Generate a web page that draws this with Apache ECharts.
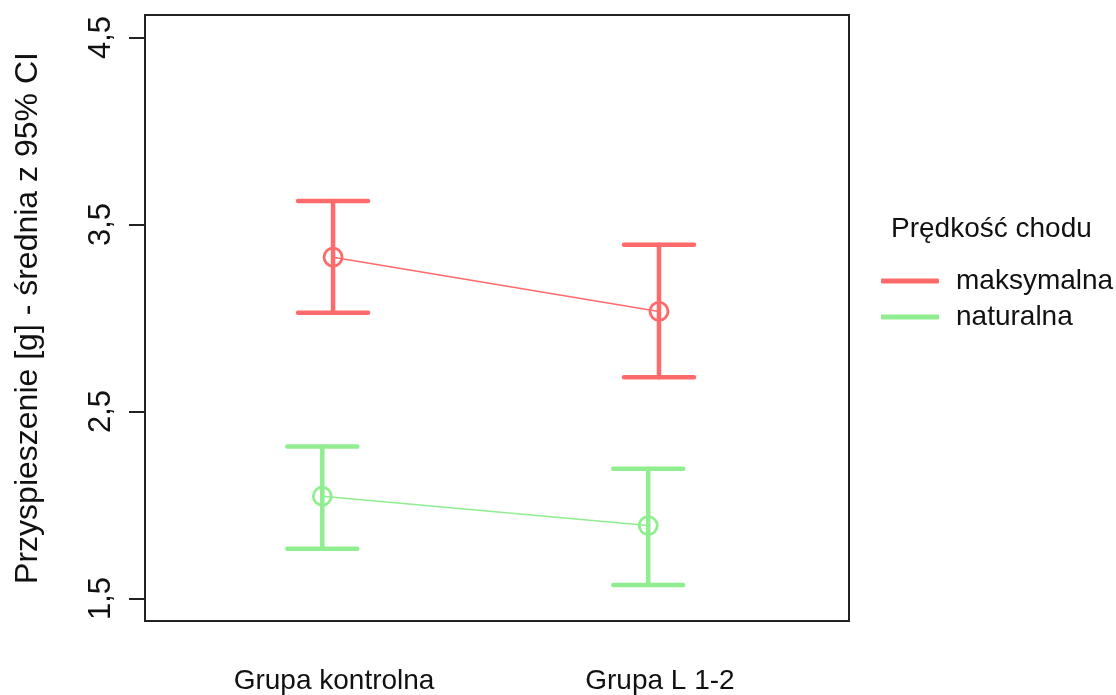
<!DOCTYPE html>
<html><head><meta charset="utf-8">
<script src="https://cdn.jsdelivr.net/npm/echarts@6/dist/echarts.min.js"></script>
<style>html,body{margin:0;padding:0;background:#fff}#c{width:1116px;height:695px}</style>
</head><body><div id="c"></div>
<script>
const categories = ['Grupa kontrolna', 'Grupa L 1-2'];
const seriesNames = ['maksymalna', 'naturalna'];
const maksMean  = [3.325, 3.035];
const maksLower = [3.028, 2.683];
const maksUpper = [3.625, 3.391];
const natMean   = [2.047, 1.890];
const natLower  = [1.766, 1.573];
const natUpper  = [2.313, 2.194];
const yTicks = [1.5, 2.5, 3.5, 4.5];
const legendTitle = 'Prędkość chodu';
const yTitle = 'Przyspieszenie [g] - średnia z 95% CI';

const colors = ['#ff6b6b', '#90ee90'];
const dodge = [-0.003, -0.036];
const FONT = 'Liberation Sans, Arial, sans-serif';

const groups = [
  {mean: maksMean, lower: maksLower, upper: maksUpper},
  {mean: natMean, lower: natLower, upper: natUpper}
];

const series = [];
groups.forEach((g, si) => {
  const xs = categories.map((c, i) => i + 1 + dodge[si]);
  series.push({
    name: seriesNames[si],
    type: 'line',
    z: 2,
    data: xs.map((x, i) => [x, g.mean[i]]),
    color: colors[si],
    symbol: 'circle',
    symbolSize: 18,
    itemStyle: {color: 'rgba(255,255,255,0)', borderColor: colors[si], borderWidth: 2.8},
    lineStyle: {color: colors[si], width: 1.5},
    emphasis: {disabled: true}
  });
  series.push({
    name: seriesNames[si],
    type: 'custom',
    z: 3,
    data: xs.map((x, i) => [x, g.lower[i], g.upper[i]]),
    renderItem: function (params, api) {
      const x = api.value(0);
      const lo = api.coord([x, api.value(1)]);
      const hi = api.coord([x, api.value(2)]);
      const half = 35;
      const st = {stroke: colors[si], lineWidth: 4.5, lineCap: 'round'};
      return {
        type: 'group',
        children: [
          {type: 'line', shape: {x1: lo[0], y1: lo[1], x2: hi[0], y2: hi[1]}, style: st},
          {type: 'line', shape: {x1: lo[0] - half, y1: lo[1], x2: lo[0] + half, y2: lo[1]}, style: st},
          {type: 'line', shape: {x1: hi[0] - half, y1: hi[1], x2: hi[0] + half, y2: hi[1]}, style: st}
        ]
      };
    }
  });
});

const chart = echarts.init(document.getElementById('c'), null, {renderer: 'canvas'});
chart.setOption({
  animation: false,
  backgroundColor: '#fff',
  textStyle: {fontFamily: FONT},
  title: {
    text: legendTitle, left: 886, top: 210,
    textStyle: {fontFamily: FONT, fontSize: 28, fontWeight: 'normal', color: '#111'}
  },
  legend: {
    data: seriesNames.map((n, i) => ({name: n, icon: 'roundRect', itemStyle: {color: colors[i], borderWidth: 0}})),
    orient: 'vertical', left: 876, top: 262,
    itemWidth: 58, itemHeight: 5, itemGap: 8,
    textStyle: {fontFamily: FONT, fontSize: 28, color: '#111', padding: [0, 0, 0, 12]},
    selectedMode: false
  },
  grid: {
    left: 145, right: 267, top: 15, bottom: 73,
    show: true, borderColor: '#222', borderWidth: 2, backgroundColor: 'transparent'
  },
  xAxis: {
    type: 'value', min: 0.42, max: 2.58,
    splitLine: {show: false},
    axisLine: {show: false},
    axisTick: {show: false},
    axisLabel: {
      customValues: [1, 2],
      formatter: v => categories[Math.round(v) - 1] || '',
      fontFamily: FONT, fontSize: 28, color: '#111', margin: 46
    }
  },
  yAxis: {
    type: 'value', min: 1.38, max: 4.62,
    name: yTitle, nameLocation: 'middle', nameGap: 101,
    nameTextStyle: {fontFamily: FONT, fontSize: 32, color: '#111'},
    splitLine: {show: false},
    axisLine: {show: false},
    axisTick: {show: true, customValues: yTicks, length: 16, lineStyle: {color: '#222', width: 2}},
    axisLabel: {
      customValues: yTicks, rotate: 90,
      formatter: v => String(v).replace('.', ','),
      fontFamily: FONT, fontSize: 31, color: '#111', margin: 28
    }
  },
  series: series
});
</script></body></html>
